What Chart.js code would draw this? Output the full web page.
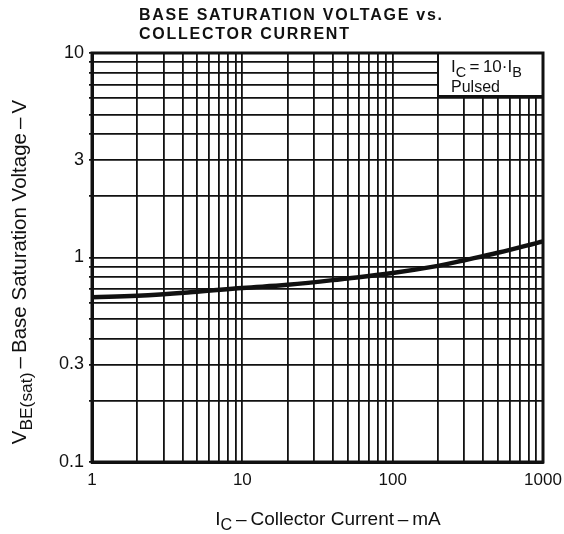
<!DOCTYPE html>
<html lang="en">
<head>
    <meta charset="UTF-8">
    <title>Base Saturation Voltage vs. Collector Current</title>
    <style>
        body {
            margin: 0;
            background: #fff;
        }
        #graph {
            display: block;
        }
    </style>
    <script src="https://cdn.jsdelivr.net/npm/chart.js@4.4.0/dist/chart.umd.min.js"></script>
</head>
<body>
    <canvas id="graph" width="564" height="534"></canvas>
    <script>
        // values (IC in mA, VBE(sat) in V)
        const collectorCurrent = [1, 2, 5, 10, 20, 50, 100, 200, 300, 500, 1000]
        const baseSatVoltage = [0.64, 0.65, 0.68, 0.71, 0.735, 0.79, 0.84, 0.91, 0.97, 1.055, 1.20]

        // grid lines and the labels that are shown
        const xGrid = [1, 2, 3, 4, 5, 6, 7, 8, 9, 10, 20, 30, 40, 50, 60, 70, 80, 90, 100, 200, 300, 400, 500, 600, 700, 800, 900, 1000]
        const xLabels = [1, 10, 100, 1000]
        const yGrid = [0.1, 0.2, 0.3, 0.4, 0.5, 0.6, 0.7, 0.8, 0.9, 1, 2, 3, 4, 5, 6, 7, 8, 9, 10]
        const yLabels = [0.1, 0.3, 1, 3, 10]

        const titleLines = ["BASE SATURATION VOLTAGE vs.", "COLLECTOR CURRENT"]
        const dash = "\u2009\u2013\u2009"
        const xTitle = [["I", false], ["C", true], [dash + "Collector Current" + dash + "mA", false]]
        const yTitle = [["V", false], ["BE(sat)", true], [dash + "Base Saturation Voltage" + dash + "V", false]]
        const noteLine1 = [["I", false], ["C", true], ["\u2009=\u200910\u00b7I", false], ["B", true]]
        const noteLine2 = "Pulsed"

        const ink = '#111'
        const font = '"Liberation Sans", Arial, Helvetica, sans-serif'

        // draws a piece of text with subscripts, starting at x
        function subText(ctx, parts, x, y, size) {
            let cx = x
            parts.forEach(p => {
                ctx.font = (p[1] ? size * 0.85 : size) + 'px ' + font
                ctx.fillText(p[0], cx, p[1] ? y + size * 0.28 : y)
                cx += ctx.measureText(p[0]).width
            })
            return cx - x
        }
        function subWidth(ctx, parts, size) {
            let w = 0
            parts.forEach(p => {
                ctx.font = (p[1] ? size * 0.85 : size) + 'px ' + font
                w += ctx.measureText(p[0]).width
            })
            return w
        }

        const decor = {
            id: 'decor',
            beforeDraw(chart) {
                const ctx = chart.ctx
                ctx.save()
                ctx.fillStyle = '#fff'
                ctx.fillRect(0, 0, chart.width, chart.height)
                ctx.restore()
            },
            afterDraw(chart) {
                const ctx = chart.ctx
                const a = chart.chartArea
                ctx.save()
                ctx.fillStyle = ink
                ctx.textBaseline = 'alphabetic'
                ctx.textAlign = 'left'

                // title
                ctx.font = 'bold 16px ' + font
                ctx.letterSpacing = '1.75px'
                ctx.fillText(titleLines[0], 139, 20)
                ctx.fillText(titleLines[1], 139, 39)
                ctx.letterSpacing = '0px'

                // x axis title
                let w = subWidth(ctx, xTitle, 19)
                subText(ctx, xTitle, 328 - w / 2, 525, 19)

                // y axis title
                ctx.save()
                ctx.translate(26, 272)
                ctx.rotate(-Math.PI / 2)
                w = subWidth(ctx, yTitle, 20.5)
                subText(ctx, yTitle, -w / 2, 0, 20.5)
                ctx.restore()

                // note box in the upper right corner
                const bw = 105, bh = 43
                const bx = a.right - bw
                const by = a.top
                ctx.fillStyle = '#fff'
                ctx.fillRect(bx, by, bw, bh)
                ctx.strokeStyle = ink
                ctx.lineWidth = 2
                ctx.strokeRect(bx, by, bw, bh)
                ctx.lineWidth = 3
                ctx.strokeRect(a.left, a.top, a.right - a.left, a.bottom - a.top)
                ctx.fillStyle = ink
                subText(ctx, noteLine1, bx + 13, by + 19, 17)
                ctx.font = '16px ' + font
                ctx.fillText(noteLine2, bx + 13, by + 39)
                ctx.restore()
            }
        }

        let ctx = document.getElementById("graph").getContext('2d')
        let config = {
            type: 'line',
            data: {
                datasets: [{
                    data: collectorCurrent.map((c, i) => ({ x: c, y: baseSatVoltage[i] })),
                    borderColor: ink,
                    borderWidth: 4.5,
                    pointRadius: 0,
                    tension: 0.4,
                    fill: false
                }]
            },
            options: {
                responsive: false,
                animation: false,
                layout: {
                    padding: { left: 0, right: 21, top: 53, bottom: 0 }
                },
                plugins: {
                    legend: { display: false },
                    title: { display: false },
                    tooltip: { enabled: false }
                },
                scales: {
                    x: {
                        type: 'logarithmic',
                        min: 1,
                        max: 1000,
                        afterBuildTicks: s => { s.ticks = xGrid.map(v => ({ value: v })) },
                        afterFit: s => {
                            s.height = 72
                            s.paddingLeft = 0
                            s.paddingRight = 0
                        },
                        border: { display: true, color: ink, width: 3 },
                        grid: {
                            color: ink,
                            lineWidth: 1.8,
                            drawTicks: false
                        },
                        ticks: {
                            autoSkip: false,
                            maxRotation: 0,
                            padding: 8,
                            color: ink,
                            font: { family: font, size: 17 },
                            callback: v => xLabels.includes(v) ? String(v) : ''
                        }
                    },
                    y: {
                        type: 'logarithmic',
                        min: 0.1,
                        max: 10,
                        afterBuildTicks: s => { s.ticks = yGrid.map(v => ({ value: v })) },
                        afterFit: s => {
                            s.width = 92
                            s.paddingTop = 0
                            s.paddingBottom = 0
                        },
                        border: { display: true, color: ink, width: 3 },
                        grid: {
                            color: ink,
                            lineWidth: 1.8,
                            tickLength: 3
                        },
                        ticks: {
                            autoSkip: false,
                            padding: 5,
                            color: ink,
                            font: { family: font, size: 18 },
                            callback: v => yLabels.includes(v) ? String(v) : ''
                        }
                    }
                }
            },
            plugins: [decor]
        }
        let graph = new Chart(ctx, config)
    </script>
</body>
</html>
